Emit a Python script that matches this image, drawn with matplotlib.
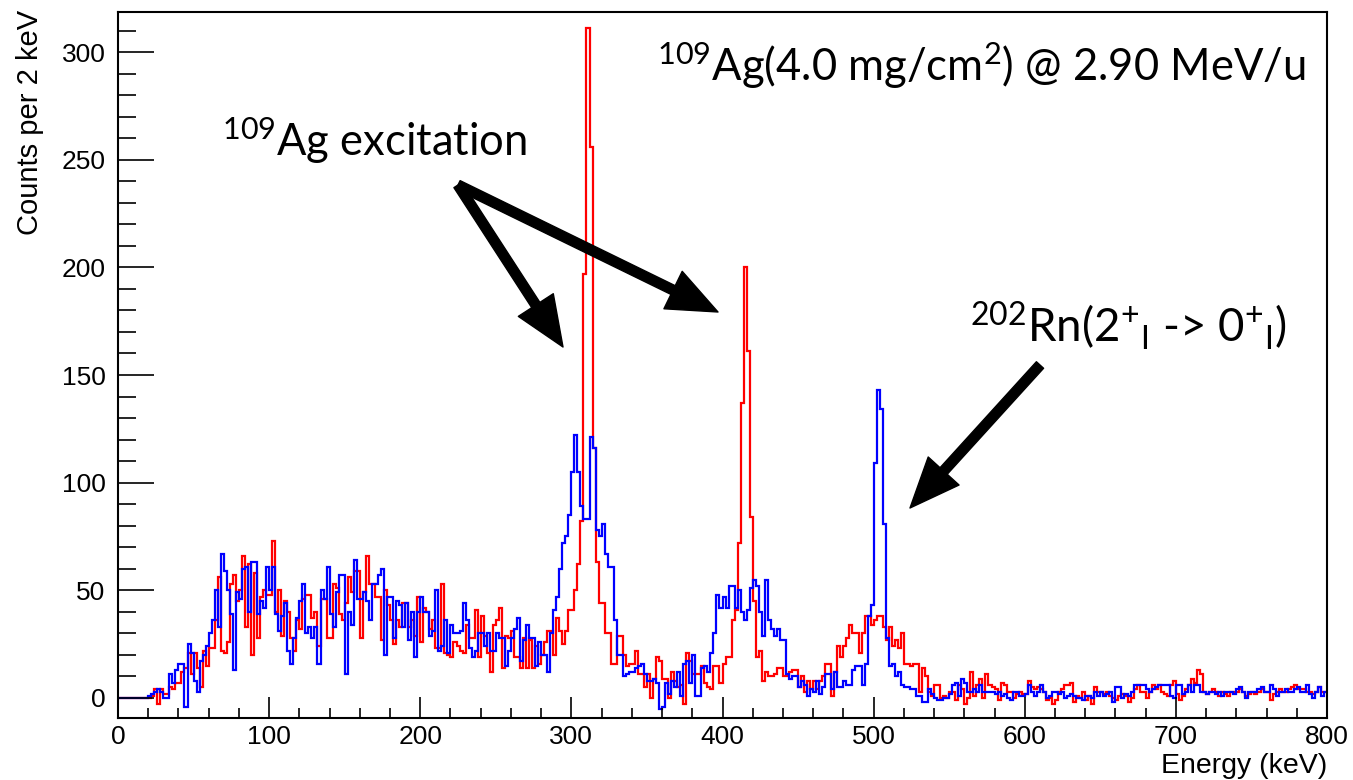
import matplotlib
matplotlib.use("Agg")
import matplotlib.pyplot as plt
from matplotlib.ticker import MultipleLocator
import numpy as np

# 2 keV bins, 0-800 keV (400 bins each)
E_MIN, E_MAX, BIN_KEV = 0, 800, 2

COUNTS_RED = [
    0, 0, 0, 0, 0, 0, 0, 0, 0, 0,
    0, 1, 4, -3, 4, 2, 2, 5, 4, 7,
    7, 12, 14, 21, 11, 21, 14, 5, 22, 15,
    23, 23, 36, 56, 22, 21, 26, 53, 57, 45,
    50, 66, 33, 62, 20, 58, 28, 47, 50, 48,
    48, 73, 40, 50, 29, 45, 40, 28, 22, 36,
    32, 46, 48, 48, 37, 40, 24, 46, 46, 28,
    28, 53, 51, 39, 36, 44, 56, 49, 59, 59,
    28, 49, 66, 53, 53, 47, 47, 27, 50, 43,
    36, 25, 36, 33, 44, 44, 33, 36, 29, 47,
    26, 42, 40, 32, 36, 23, 23, 53, 21, 20,
    19, 26, 24, 22, 21, 34, 28, 28, 41, 19,
    38, 29, 21, 12, 34, 36, 42, 14, 29, 28,
    31, 19, 19, 14, 28, 14, 27, 14, 24, 16,
    20, 26, 31, 31, 20, 37, 31, 25, 31, 41,
    41, 50, 62, 82, 197, 311, 256, 116, 63, 44,
    44, 30, 30, 16, 16, 29, 29, 20, 15, 16,
    16, 22, 11, 11, 5, 11, 0, 9, 19, 17,
    9, 9, 0, 12, 8, 5, 6, -3, 21, 17,
    11, 11, 11, 15, 7, 5, 4, 15, 15, 7,
    16, 19, 19, 36, 41, 72, 137, 200, 161, 84,
    45, 19, 22, 8, 12, 10, 10, 11, 14, 14,
    10, 10, 12, 13, 13, 5, 10, 3, 8, 4,
    8, 4, 8, 10, 16, 16, 1, 12, 24, 19,
    24, 28, 34, 30, 30, 21, 30, 38, 38, 34,
    36, 38, 38, 33, 27, 33, 24, 27, 23, 30,
    16, 16, 15, 16, 16, 3, 14, 10, 3, 1,
    6, 6, 0, 1, 0, 3, 3, -1, 6, 4,
    -3, 0, 12, 1, 6, 9, 0, 11, 6, 5,
    4, -1, 7, 6, 3, 3, 0, 2, 3, 2,
    2, 8, 5, 4, 5, 4, 3, -1, 0, -3,
    -1, 3, 4, 6, 6, 7, -2, 1, 0, 3,
    -1, 1, -3, 5, 3, 3, 2, 3, 1, 0,
    -1, 1, 2, 1, -2, 0, 4, 6, 3, 3,
    0, 3, 6, 4, 6, 3, 2, 1, 6, 8,
    2, -1, 1, 4, 6, 9, 7, 13, 11, 3,
    2, 3, 4, 3, 1, 3, 2, 1, 3, 3,
    3, 4, 3, 1, 2, 3, 2, 3, 4, 3,
    3, -1, 2, 3, 4, 3, 3, 4, 5, 6,
    4, 4, 4, 3, 3, 2, 3, 5, 3, 3,
]

COUNTS_BLUE = [
    0, 0, 0, 0, 0, 0, 0, 0, 0, 0,
    1, 2, 3, 4, 3, 0, 0, 11, 7, 13,
    16, 16, -4, 25, 21, 8, 3, 17, 20, 24,
    30, 36, 50, 33, 67, 59, 50, 39, 13, 49,
    46, 60, 61, 40, 63, 63, 39, 45, 42, 61,
    50, 61, 39, 31, 38, 44, 22, 16, 28, 37,
    45, 53, 30, 33, 28, 33, 16, 50, 46, 61,
    39, 33, 49, 57, 57, 11, 40, 34, 64, 46,
    46, 49, 45, 36, 53, 53, 57, 60, 20, 47,
    47, 28, 45, 43, 33, 44, 27, 40, 19, 40,
    47, 40, 40, 29, 31, 50, 22, 24, 36, 21,
    34, 30, 30, 31, 44, 36, 23, 19, 22, 30,
    30, 24, 30, 22, 22, 30, 28, 28, 15, 22,
    28, 32, 37, 17, 27, 34, 28, 28, 15, 26,
    20, 20, 12, 30, 41, 47, 60, 72, 75, 85,
    105, 122, 105, 89, 83, 83, 121, 116, 78, 75,
    81, 67, 61, 61, 36, 20, 20, 10, 11, 12,
    12, 14, 15, 16, 11, 8, 8, 9, 7, -5,
    -4, 7, 2, 8, 5, 12, 1, 16, 17, 7,
    20, 1, 1, 14, 15, 12, 21, 30, 48, 42,
    47, 42, 52, 52, 42, 50, 40, 36, 41, 51,
    55, 52, 40, 29, 55, 36, 32, 29, 32, 27,
    27, 11, 9, 10, 10, 5, 8, 6, 1, 4,
    3, 8, 2, 5, 11, 11, 4, 12, 5, 5,
    8, 6, 6, 13, 15, 15, 6, 16, 38, 43,
    109, 143, 134, 81, 28, 15, 16, 10, 12, 6,
    5, 5, 4, 4, 1, 1, -2, -2, 4, 2,
    0, -1, -1, 0, 0, 2, 6, 7, 1, 9,
    7, 3, 3, 4, 3, 6, 3, 3, 3, 3,
    2, 3, 1, 2, 0, -1, 3, 3, 1, 1,
    2, 6, 3, 1, 3, 6, 3, 0, 1, 3,
    3, 2, 3, 0, 1, 2, 1, 0, 0, -1,
    1, 1, 0, 3, 1, 3, 1, 2, 3, -2,
    5, 5, 0, 2, 1, 3, 6, 6, 6, 6,
    4, 3, 4, 5, 6, 6, 6, 6, 1, 0,
    6, 6, 2, 3, 6, 3, 6, 6, 3, 3,
    2, 3, 3, 2, 3, 1, 3, 3, 3, 2,
    4, 5, 3, 0, 3, 3, 3, 4, 5, 3,
    3, 6, 4, 1, 3, 3, 4, 3, 3, 4,
    5, 3, 3, 6, 2, 0, 3, 5, 1, 3,
]

TITLE = r"$^{\mathrm{109}}$Ag(4.0 mg/cm$^{\mathrm{2}}$) @ 2.90 MeV/u"
LABEL_AG = r"$^{\mathrm{109}}$Ag excitation"
LABEL_RN = r"$^{\mathrm{202}}$Rn(2$^{\mathrm{+}}$$_{\mathrm{I}}$ -> 0$^{\mathrm{+}}$$_{\mathrm{I}}$)"

plt.rcParams["font.family"] = ["Liberation Sans", "DejaVu Sans"]
plt.rcParams["mathtext.fontset"] = "custom"
plt.rcParams["mathtext.rm"] = "Lato"
plt.rcParams["mathtext.it"] = "Lato:italic"
plt.rcParams["mathtext.bf"] = "Lato:bold"

W, H = 1353, 780
fig = plt.figure(figsize=(W / 100, H / 100), dpi=100)
ax = fig.add_axes([118 / W, 62 / H, 1209 / W, 706 / H])

edges = np.arange(E_MIN, E_MAX + BIN_KEV, BIN_KEV)
ax.stairs(np.array(COUNTS_RED), edges, baseline=None, color="#ff0000", lw=1.6)
ax.stairs(np.array(COUNTS_BLUE), edges, baseline=None, color="#0000ff", lw=1.6)

ax.set_xlim(E_MIN, E_MAX)
ax.set_ylim(-9.3, 318.6)
ax.xaxis.set_major_locator(MultipleLocator(100))
ax.xaxis.set_minor_locator(MultipleLocator(20))
ax.yaxis.set_major_locator(MultipleLocator(50))
ax.yaxis.set_minor_locator(MultipleLocator(10))
ax.tick_params(axis="x", which="major", direction="in", length=15, width=1.2,
               labelsize=19, pad=5)
ax.tick_params(axis="x", which="minor", direction="in", length=7.5, width=1.2)
ax.tick_params(axis="y", which="major", direction="in", length=26, width=1.2,
               labelsize=19, pad=9)
ax.tick_params(axis="y", which="minor", direction="in", length=13, width=1.2)
for s in ax.spines.values():
    s.set_linewidth(1.5)

ax.set_xlabel("Energy (keV)", fontsize=20.5, ha="right", va="center")
ax.xaxis.set_label_coords(1.0, -0.068)
ax.set_ylabel("Counts per 2 keV", fontsize=21, ha="right", va="center")
ax.yaxis.set_label_coords(-0.073, 1.003)


def fpx(x, y):
    # pixel position (from top-left) -> figure fraction
    return x / W, 1 - y / H


def fit_width(t, width_px):
    fig.canvas.draw()
    w = t.get_window_extent().width
    t.set_fontsize(t.get_fontsize() * width_px / w)


t1 = fig.text(*fpx(657, 81), TITLE, fontsize=34, family="Lato",
              ha="left", va="baseline")
t2 = fig.text(*fpx(222, 156), LABEL_AG, fontsize=30, family="Lato",
              ha="left", va="baseline")
t3 = fig.text(*fpx(970, 342), LABEL_RN, fontsize=30, family="Lato",
              ha="left", va="baseline")
fit_width(t1, 650)
fit_width(t2, 305)
fit_width(t3, 317)

arrow = dict(width=7, headwidth=30, headlength=36, color="k", shrink=0)
ax.annotate("", xy=fpx(563, 347), xytext=fpx(458, 185),
            xycoords="figure fraction", textcoords="figure fraction",
            arrowprops=arrow)
ax.annotate("", xy=fpx(718, 312), xytext=fpx(458, 185),
            xycoords="figure fraction", textcoords="figure fraction",
            arrowprops=arrow)
ax.annotate("", xy=fpx(910, 508), xytext=fpx(1040, 365),
            xycoords="figure fraction", textcoords="figure fraction",
            arrowprops=arrow)

fig.savefig("out.png", dpi=100)
